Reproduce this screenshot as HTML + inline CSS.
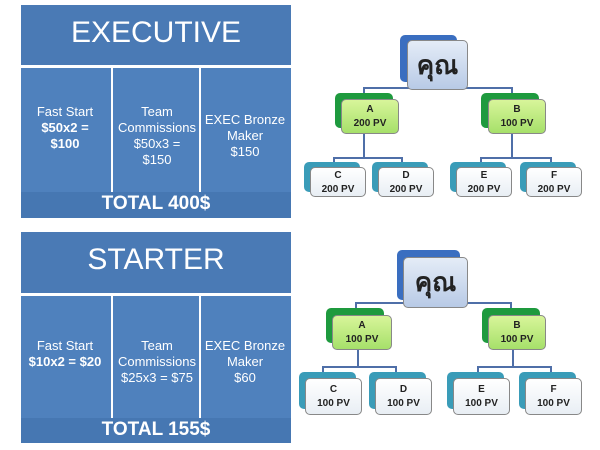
<!DOCTYPE html>
<html><head><meta charset="utf-8"><style>
body{margin:0;width:600px;height:450px;background:#fff;position:relative;overflow:hidden;font-family:"Liberation Sans","Noto Sans CJK SC",sans-serif}
.a{position:absolute}
.panel{position:absolute;left:21px;width:270px;background:#4f81bd}
.hdr{position:absolute;left:0;width:270px;background:#4a7ab5;color:#fff;text-align:center;font-size:30px}
.col{position:absolute;width:88px;color:#fff;text-align:center;font-size:13px;line-height:16px}
.vl{position:absolute;width:2px;background:#fff}
.tot{position:absolute;left:0;width:270px;background:#4677b2;color:#fff;font-weight:bold;text-align:center;font-size:19px}
.bk{position:absolute;border-radius:5px}
.fr{position:absolute;border-radius:5px;text-align:center;font-weight:bold;font-size:10px;color:#222;line-height:14px;box-sizing:border-box;border:1px solid #888}
.ln{position:absolute;background:#4f6fa8}
</style></head><body>

<div class="panel" style="top:5px;height:213px"></div>
<div class="a" style="left:21px;top:5px;width:270px;height:213px">
 <div class="hdr" style="top:0;height:60px;line-height:56px">EXECUTIVE</div>
 <div class="a" style="left:0;top:60px;width:270px;height:3px;background:#fff"></div>
 <div class="vl" style="left:90px;top:63px;height:130px"></div>
 <div class="vl" style="left:178px;top:63px;height:130px"></div>
 <div class="col" style="left:0;top:99px">Fast Start<br><b>$50x2 =<br>$100</b></div>
 <div class="col" style="left:92px;top:99px">Team<br>Commissions<br>$50x3 =<br>$150</div>
 <div class="col" style="left:180px;top:107px">EXEC Bronze<br>Maker<br>$150</div>
 <div class="tot" style="top:187px;height:26px;line-height:24px">TOTAL 400$</div>
</div>

<div class="panel" style="top:232px;height:211px"></div>
<div class="a" style="left:21px;top:232px;width:270px;height:211px">
 <div class="hdr" style="top:0;height:61px;line-height:56px">STARTER</div>
 <div class="a" style="left:0;top:61px;width:270px;height:3px;background:#fff"></div>
 <div class="vl" style="left:90px;top:64px;height:130px"></div>
 <div class="vl" style="left:178px;top:64px;height:130px"></div>
 <div class="col" style="left:0;top:106px">Fast Start<br><b>$10x2 = $20</b></div>
 <div class="col" style="left:92px;top:106px">Team<br>Commissions<br>$25x3 = $75</div>
 <div class="col" style="left:180px;top:106px">EXEC Bronze<br>Maker<br>$60</div>
 <div class="tot" style="top:186px;height:25px;line-height:24px">TOTAL 155$</div>
</div>

<div class="ln" style="left:363px;top:87px;width:150px;height:2px"></div>
<div class="ln" style="left:363px;top:87px;width:2px;height:8px"></div>
<div class="ln" style="left:511px;top:87px;width:2px;height:8px"></div>
<div class="ln" style="left:363px;top:133px;width:2px;height:25px"></div>
<div class="ln" style="left:333px;top:157px;width:70px;height:2px"></div>
<div class="ln" style="left:333px;top:157px;width:2px;height:6px"></div>
<div class="ln" style="left:401px;top:157px;width:2px;height:6px"></div>
<div class="ln" style="left:511px;top:133px;width:2px;height:25px"></div>
<div class="ln" style="left:480px;top:157px;width:72px;height:2px"></div>
<div class="ln" style="left:480px;top:157px;width:2px;height:6px"></div>
<div class="ln" style="left:550px;top:157px;width:2px;height:6px"></div>

<div class="bk" style="left:400px;top:35px;width:57px;height:47px;background:#3a6ec0"></div>
<div class="fr" style="left:407px;top:40px;width:61px;height:50px;background:linear-gradient(#e4ecf7,#b8cae6);font-size:26px;line-height:48px;font-weight:bold">คุณ</div>

<div class="bk" style="left:335px;top:93px;width:58px;height:35px;background:#1e9a3e"></div>
<div class="fr" style="left:341px;top:99px;width:58px;height:35px;background:linear-gradient(#d8f59a,#a6e06a);padding-top:3px">A<br>200 PV</div>
<div class="bk" style="left:481px;top:93px;width:58px;height:35px;background:#1e9a3e"></div>
<div class="fr" style="left:488px;top:99px;width:58px;height:35px;background:linear-gradient(#d8f59a,#a6e06a);padding-top:3px">B<br>100 PV</div>

<div class="bk" style="left:304px;top:162px;width:56px;height:30px;background:#3a9cb8"></div>
<div class="fr" style="left:310px;top:167px;width:56px;height:30px;background:linear-gradient(#fff,#e8eef4);padding-top:1px">C<br>200 PV</div>
<div class="bk" style="left:372px;top:162px;width:56px;height:30px;background:#3a9cb8"></div>
<div class="fr" style="left:378px;top:167px;width:56px;height:30px;background:linear-gradient(#fff,#e8eef4);padding-top:1px">D<br>200 PV</div>
<div class="bk" style="left:450px;top:162px;width:56px;height:30px;background:#3a9cb8"></div>
<div class="fr" style="left:456px;top:167px;width:56px;height:30px;background:linear-gradient(#fff,#e8eef4);padding-top:1px">E<br>200 PV</div>
<div class="bk" style="left:520px;top:162px;width:56px;height:30px;background:#3a9cb8"></div>
<div class="fr" style="left:526px;top:167px;width:56px;height:30px;background:linear-gradient(#fff,#e8eef4);padding-top:1px">F<br>200 PV</div>

<div class="ln" style="left:355px;top:302px;width:157px;height:2px"></div>
<div class="ln" style="left:355px;top:302px;width:2px;height:8px"></div>
<div class="ln" style="left:510px;top:302px;width:2px;height:8px"></div>
<div class="ln" style="left:357px;top:349px;width:2px;height:19px"></div>
<div class="ln" style="left:322px;top:366px;width:75px;height:2px"></div>
<div class="ln" style="left:322px;top:366px;width:2px;height:6px"></div>
<div class="ln" style="left:395px;top:366px;width:2px;height:6px"></div>
<div class="ln" style="left:512px;top:349px;width:2px;height:19px"></div>
<div class="ln" style="left:477px;top:366px;width:75px;height:2px"></div>
<div class="ln" style="left:477px;top:366px;width:2px;height:6px"></div>
<div class="ln" style="left:550px;top:366px;width:2px;height:6px"></div>

<div class="bk" style="left:397px;top:250px;width:63px;height:50px;background:#3a6ec0"></div>
<div class="fr" style="left:403px;top:257px;width:65px;height:51px;background:linear-gradient(#e4ecf7,#b8cae6);font-size:26px;line-height:49px;font-weight:bold">คุณ</div>

<div class="bk" style="left:326px;top:308px;width:58px;height:35px;background:#1e9a3e"></div>
<div class="fr" style="left:332px;top:315px;width:60px;height:35px;background:linear-gradient(#d8f59a,#a6e06a);padding-top:3px">A<br>100 PV</div>
<div class="bk" style="left:482px;top:308px;width:58px;height:35px;background:#1e9a3e"></div>
<div class="fr" style="left:488px;top:315px;width:58px;height:35px;background:linear-gradient(#d8f59a,#a6e06a);padding-top:3px">B<br>100 PV</div>

<div class="bk" style="left:299px;top:372px;width:57px;height:37px;background:#3a9cb8"></div>
<div class="fr" style="left:305px;top:378px;width:57px;height:37px;background:linear-gradient(#fff,#e8eef4);padding-top:4px">C<br>100 PV</div>
<div class="bk" style="left:369px;top:372px;width:57px;height:37px;background:#3a9cb8"></div>
<div class="fr" style="left:375px;top:378px;width:57px;height:37px;background:linear-gradient(#fff,#e8eef4);padding-top:4px">D<br>100 PV</div>
<div class="bk" style="left:447px;top:372px;width:57px;height:37px;background:#3a9cb8"></div>
<div class="fr" style="left:453px;top:378px;width:57px;height:37px;background:linear-gradient(#fff,#e8eef4);padding-top:4px">E<br>100 PV</div>
<div class="bk" style="left:519px;top:372px;width:57px;height:37px;background:#3a9cb8"></div>
<div class="fr" style="left:525px;top:378px;width:57px;height:37px;background:linear-gradient(#fff,#e8eef4);padding-top:4px">F<br>100 PV</div>

</body></html>
